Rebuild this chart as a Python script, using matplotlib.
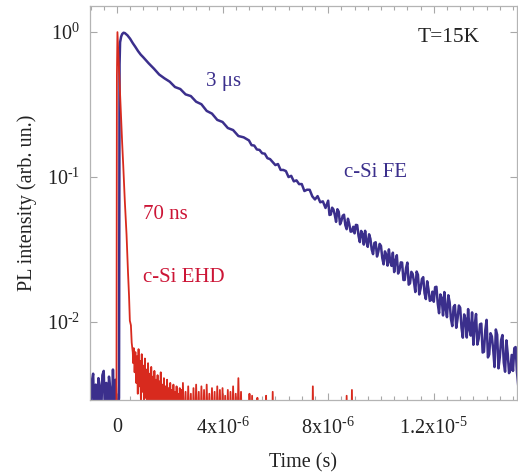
import matplotlib
matplotlib.use("Agg")
import matplotlib.pyplot as plt
from matplotlib.ticker import FixedLocator, FixedFormatter, MultipleLocator, NullLocator

# Time-resolved PL at T=15K: c-Si free exciton (FE) and electron-hole droplet (EHD)

# FE trace (time in microseconds, intensity normalised)
fe_time_us = [
    -1.00, -0.95, -0.90, -0.85, -0.80, -0.75, -0.70, -0.65, -0.60, -0.55,
    -0.50, -0.45, -0.40, -0.35, -0.30, -0.25, -0.20, -0.15, -0.10, -0.05,
    0.00, 0.08, 0.10, 0.12, 0.16, 0.20, 0.25, 0.30, 0.40, 0.50,
    0.60, 0.70, 0.80, 0.90, 1.0, 1.2, 1.4, 1.6, 1.8, 2.0,
    2.2, 2.4, 2.6, 2.8, 3.0, 3.2, 3.4, 3.6, 3.8, 4.0,
    4.2, 4.4, 4.6, 4.8,
    5.0, 5.1, 5.2, 5.3, 5.4, 5.5, 5.6, 5.7, 5.8, 5.9,
    6.0, 6.1, 6.2, 6.3, 6.4, 6.5, 6.6, 6.7, 6.8, 6.9,
    7.0, 7.1, 7.2, 7.3, 7.4, 7.5, 7.6, 7.7, 7.8, 7.9,
    8.00, 8.05, 8.10, 8.15, 8.20, 8.25, 8.30, 8.35, 8.40, 8.45,
    8.50, 8.55, 8.60, 8.65, 8.70, 8.75, 8.80, 8.85, 8.90, 8.95,
    9.00, 9.05, 9.10, 9.15, 9.20, 9.25, 9.30, 9.35, 9.40, 9.45,
    9.50, 9.55, 9.60, 9.65, 9.70, 9.75, 9.80, 9.85, 9.90, 9.95,
    10.00, 10.05, 10.10, 10.15, 10.20, 10.25, 10.30, 10.35, 10.40, 10.45,
    10.50, 10.55, 10.60, 10.65, 10.70, 10.75, 10.80, 10.85, 10.90, 10.95,
    11.00, 11.05, 11.10, 11.15, 11.20, 11.25, 11.30, 11.35, 11.40, 11.45,
    11.50, 11.55, 11.60, 11.65, 11.70, 11.75, 11.80, 11.85, 11.90, 11.95,
    12.00, 12.05, 12.10, 12.15, 12.20, 12.25, 12.30, 12.35, 12.40, 12.45,
    12.50, 12.55, 12.60, 12.65, 12.70, 12.75, 12.80, 12.85, 12.90, 12.95,
    13.00, 13.05, 13.10, 13.15, 13.20, 13.25, 13.30, 13.35, 13.40, 13.45,
    13.50, 13.55, 13.60, 13.65, 13.70, 13.75, 13.80, 13.85, 13.90, 13.95,
    14.00, 14.05, 14.10, 14.15, 14.20, 14.25, 14.30, 14.35, 14.40, 14.45,
    14.50, 14.55, 14.60, 14.65, 14.70, 14.75, 14.80, 14.85, 14.90, 14.95,
    15.00, 15.05, 15.10, 15.15, 15.20,
]
fe_intensity = [
    0.0021, 0.0039, 0.0044, 0.0020, 0.0037, 0.0018, 0.0041, 0.0036, 0.0022, 0.0043,
    0.0046, 0.0023, 0.0038, 0.0019, 0.0042, 0.0034, 0.0020, 0.0047, 0.0024, 0.0040,
    0.0020, 0.0030, 0.60, 0.85, 0.93, 0.97, 0.99, 0.985, 0.95, 0.90,
    0.84, 0.79, 0.74, 0.70, 0.67, 0.61, 0.56, 0.51, 0.48, 0.455,
    0.418, 0.405, 0.372, 0.362, 0.331, 0.318, 0.286, 0.274, 0.248, 0.240,
    0.218, 0.211, 0.192, 0.188,
    0.179, 0.166, 0.165, 0.155, 0.154, 0.146, 0.145, 0.135, 0.133, 0.127,
    0.121, 0.123, 0.112, 0.112, 0.110, 0.100, 0.102, 0.0934, 0.0949, 0.0894,
    0.0895, 0.0801, 0.0818, 0.0817, 0.0736, 0.0701, 0.0739, 0.0670, 0.0680, 0.0612,
    0.0687, 0.0548, 0.0551, 0.0615, 0.0598, 0.0548, 0.0491, 0.0600, 0.0577, 0.0472,
    0.0497, 0.0541, 0.0550, 0.0466, 0.0437, 0.0516, 0.0474, 0.0420, 0.0422, 0.0454,
    0.0409, 0.0468, 0.0466, 0.0393, 0.0356, 0.0425, 0.0405, 0.0342, 0.0426, 0.0359,
    0.0330, 0.0403, 0.0375, 0.0316, 0.0294, 0.0351, 0.0355, 0.0283, 0.0306, 0.0346,
    0.0335, 0.0276, 0.0250, 0.0307, 0.0292, 0.0245, 0.0317, 0.0260, 0.0244, 0.0301,
    0.0221, 0.0264, 0.0289, 0.0216, 0.0227, 0.0258, 0.0257, 0.0195, 0.0195, 0.0236,
    0.0257, 0.0181, 0.0185, 0.0222, 0.0215, 0.0189, 0.0161, 0.0223, 0.0212, 0.0155,
    0.0170, 0.0198, 0.0204, 0.0158, 0.0144, 0.0191, 0.0168, 0.0140, 0.0142, 0.0162,
    0.0138, 0.0174, 0.0175, 0.0134, 0.0115, 0.0155, 0.0146, 0.0111, 0.0161, 0.0123,
    0.0108, 0.0153, 0.0137, 0.0105, 0.00937, 0.0127, 0.0131, 0.00912, 0.0105, 0.0130,
    0.01256, 0.00911, 0.00780, 0.01128, 0.01049, 0.00782, 0.01228, 0.00890, 0.00806, 0.01165,
    0.00697, 0.00954, 0.01136, 0.00699, 0.00766, 0.00965, 0.00975, 0.00616, 0.00623, 0.00876,
    0.01035, 0.00570, 0.00597, 0.00837, 0.00795, 0.00644, 0.00489, 0.00888, 0.00817, 0.00479,
    0.00572, 0.00751, 0.00813, 0.00525, 0.00454, 0.00747, 0.00605, 0.00444, 0.00466, 0.00593,
    0.00460, 0.00661, 0.00672, 0.00452, 0.00361,
]

# EHD trace (time in microseconds)
ehd_time_us = [
    -1.00, -0.02, 0.00, 0.02, 0.10, 0.20, 0.24, 0.30, 0.365, 0.42,
    0.46, 0.49, 0.53, 0.56, 0.60, 0.62,
    0.64, 0.67, 0.70, 0.73, 0.76, 0.79, 0.82, 0.85, 0.88, 0.91,
    0.94, 0.97, 1.00, 1.03, 1.06, 1.09, 1.12, 1.15, 1.18, 1.21,
    1.24, 1.27, 1.30, 1.33, 1.36, 1.39, 1.42, 1.45, 1.48, 1.51,
    1.54, 1.57, 1.60, 1.63, 1.66, 1.69, 1.72, 1.75, 1.78, 1.81,
    1.84, 1.87, 1.90, 1.93, 1.96, 1.99, 2.02, 2.05, 2.08, 2.11,
    2.14, 2.17, 2.20, 2.23, 2.26, 2.29, 2.32, 2.35, 2.38, 2.41,
    2.44, 2.47, 2.50, 2.55, 2.60, 2.65, 2.70, 2.75, 2.80, 2.85,
    2.90, 2.95, 3.00, 3.05, 3.10, 3.15, 3.20, 3.25, 3.30, 3.35,
    3.40, 3.45, 3.50, 3.55, 3.60, 3.65, 3.70, 3.75, 3.80, 3.85,
    3.90, 3.95, 4.00, 4.05, 4.10, 4.15, 4.20, 4.25, 4.30, 4.35,
    4.40, 4.45, 4.50, 4.55, 4.60, 4.65, 4.70, 4.75, 4.80, 5.00,
    5.02, 5.06, 5.12, 5.16, 5.30, 5.32, 5.36, 5.62, 5.65, 5.68,
    5.86, 5.90, 5.94, 7.38, 7.42, 7.46, 8.66, 8.70, 8.74, 8.86,
    8.90, 8.94, 15.2,
]
ehd_intensity = [
    0.0010, 0.0010, 0.50, 1.00, 0.45, 0.17, 0.12, 0.068, 0.040, 0.022,
    0.015, 0.0102, 0.0095, 0.0072, 0.0062, 0.0052,
    0.0066, 0.0045, 0.0062, 0.0038, 0.0058, 0.0032, 0.0065, 0.0036, 0.0054, 0.0028,
    0.0060, 0.0033, 0.0050, 0.0026, 0.0056, 0.0030, 0.0047, 0.0024, 0.0052, 0.0029,
    0.0044, 0.0022, 0.0049, 0.0027, 0.0042, 0.0020, 0.0046, 0.0025, 0.0040, 0.0021,
    0.0043, 0.0019, 0.0039, 0.0023, 0.0045, 0.0020, 0.0037, 0.0018, 0.0041, 0.0022,
    0.0036, 0.0017, 0.0040, 0.0021, 0.0035, 0.0016, 0.0038, 0.0020, 0.0034, 0.0015,
    0.0037, 0.0019, 0.0033, 0.0015, 0.0036, 0.0018, 0.0032, 0.0014, 0.0035, 0.0016,
    0.0034, 0.0015, 0.0038, 0.0016, 0.0033, 0.0014, 0.0036, 0.0017, 0.0032, 0.0013,
    0.0035, 0.0015, 0.0037, 0.0016, 0.0033, 0.0014, 0.0036, 0.0015, 0.0034, 0.0013,
    0.0037, 0.0016, 0.0032, 0.0014, 0.0035, 0.0015, 0.0033, 0.0013, 0.0036, 0.0016,
    0.0034, 0.0014, 0.0035, 0.0015, 0.0031, 0.0013, 0.0034, 0.0015, 0.0033, 0.0014,
    0.0036, 0.0015, 0.0032, 0.0014, 0.0041, 0.0015, 0.0033, 0.0013, 0.0010, 0.0010,
    0.0032, 0.0010, 0.0031, 0.0010, 0.0010, 0.0030, 0.0010, 0.0010, 0.0031, 0.0010,
    0.0010, 0.0033, 0.0010, 0.0010, 0.0036, 0.0010, 0.0010, 0.0031, 0.0010, 0.0010,
    0.0034, 0.0010, 0.0010,
]

x_ticks = [0, 4e-6, 8e-6, 1.2e-5]
x_tick_labels = ["0", r"4x10$^{\text{-}6}$", r"8x10$^{\text{-}6}$", r"1.2x10$^{\text{-}5}$"]
y_ticks = [1.0, 0.1, 0.01]
y_tick_labels = ["10$^{0}$", r"10$^{\text{-}1}$", r"10$^{\text{-}2}$"]

blue = "#3b2f8c"
red = "#d82a1e"
red_text = "#cc1536"

plt.rcParams["font.family"] = "Liberation Serif"
plt.rcParams["mathtext.fontset"] = "custom"
plt.rcParams["mathtext.rm"] = "Liberation Serif"
plt.rcParams["mathtext.default"] = "regular"

fig = plt.figure(figsize=(5.18, 4.75), dpi=100)
ax = fig.add_axes([0.1737, 0.158, 0.8243, 0.829])

fe_t = [t * 1e-6 for t in fe_time_us]
ehd_t = [t * 1e-6 for t in ehd_time_us]

ax.plot(fe_t, fe_intensity, color=blue, lw=1.8)
ax.plot(ehd_t, ehd_intensity, color=red, lw=1.3)

ax.set_yscale("log")
ax.set_xlim(-1.02e-6, 15.15e-6)
ax.set_ylim(2.9e-3, 1.51)

ax.xaxis.set_major_locator(FixedLocator(x_ticks))
ax.xaxis.set_major_formatter(FixedFormatter(x_tick_labels))
ax.xaxis.set_minor_locator(MultipleLocator(5e-7))
ax.yaxis.set_major_locator(FixedLocator(y_ticks))
ax.yaxis.set_major_formatter(FixedFormatter(y_tick_labels))
ax.yaxis.set_minor_locator(NullLocator())

for side in ["left", "right", "top", "bottom"]:
    ax.spines[side].set_color("#b4b4b4")
    ax.spines[side].set_linewidth(0.9)
ax.tick_params(which="both", direction="in", top=True, right=True,
               color="#a8a8a8", labelsize=14.5, labelcolor="#222222")
ax.tick_params(which="major", length=5, width=0.8)
ax.tick_params(axis="x", which="major", pad=13)
ax.tick_params(axis="y", which="major", pad=7)
ax.tick_params(which="minor", length=3, width=0.8)

ax.set_xlabel("Time (s)", fontsize=14.5, color="#222222", labelpad=10)
ax.set_ylabel("PL intensity (arb. un.)", fontsize=14.5, color="#222222", labelpad=7)

ax.text(12.55e-6, 0.924, "T=15K", fontsize=15.5, color="#222222", ha="center", va="center")
ax.text(4.05e-6, 0.459, "3 μs", fontsize=15, color=blue, ha="center", va="center")
ax.text(9.81e-6, 0.108, "c-Si FE", fontsize=15, color=blue, ha="center", va="center")
ax.text(1.82e-6, 0.0556, "70 ns", fontsize=15, color=red_text, ha="center", va="center")
ax.text(2.54e-6, 0.0204, "c-Si EHD", fontsize=15, color=red_text, ha="center", va="center")

fig.savefig("out.png", dpi=100)
